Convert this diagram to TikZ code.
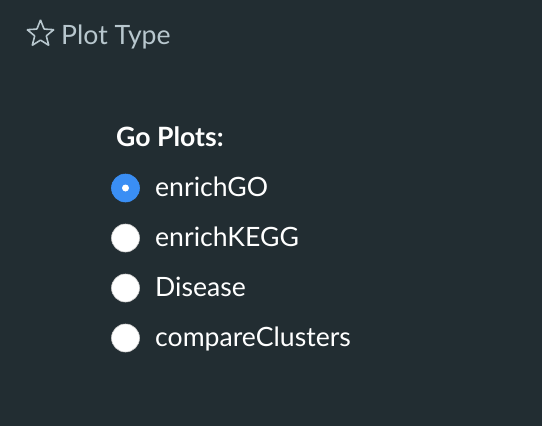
\documentclass[tikz,border=0pt]{standalone}
\usepackage{fontspec}
\setmainfont{Lato}
\usetikzlibrary{shapes.geometric}
\definecolor{sidebar}{HTML}{222D32}
\definecolor{mutedtext}{HTML}{B8C7CE}
\definecolor{radioblue}{HTML}{3A8EF4}
\begin{document}
\begin{tikzpicture}[x=1pt, y=-1pt,
    label/.style={anchor=base west, inner sep=0pt, text=white, font=\fontsize{26.6}{30}\selectfont},
    radio/.style={circle, fill=white, draw=gray!40, line width=0.6pt, minimum size=28pt, inner sep=0pt},
    chosen/.style={radio, fill=radioblue, draw=radioblue}]
    \fill[sidebar] (0, 0) rectangle (542, 426);
    \node[star, star points=5, star point ratio=2.3, draw=mutedtext, line width=1.6pt,
          minimum size=28pt, inner sep=0pt, rounded corners=0.5pt] (star) at (40.5, 34) {};
    \node[label, text=mutedtext] (title) at (61, 44) {Plot Type};
    \node[label, font=\fontsize{26.6}{30}\selectfont\bfseries] (head) at (116, 146) {Go Plots:};
    \node[chosen] (r1) at (125.5, 188) {};
    \node[circle, fill=white, minimum size=7pt, inner sep=0pt] (dot) at (r1) {};
    \node[radio] (r2) at (125.5, 238) {};
    \node[radio] (r3) at (125.5, 288) {};
    \node[radio] (r4) at (125.5, 338) {};
    \node[label] (o1) at (155, 196) {enrichGO};
    \node[label] (o2) at (155, 246) {enrichKEGG};
    \node[label] (o3) at (155, 296) {Disease};
    \node[label] (o4) at (155, 346) {compareClusters};
\end{tikzpicture}
\end{document}
